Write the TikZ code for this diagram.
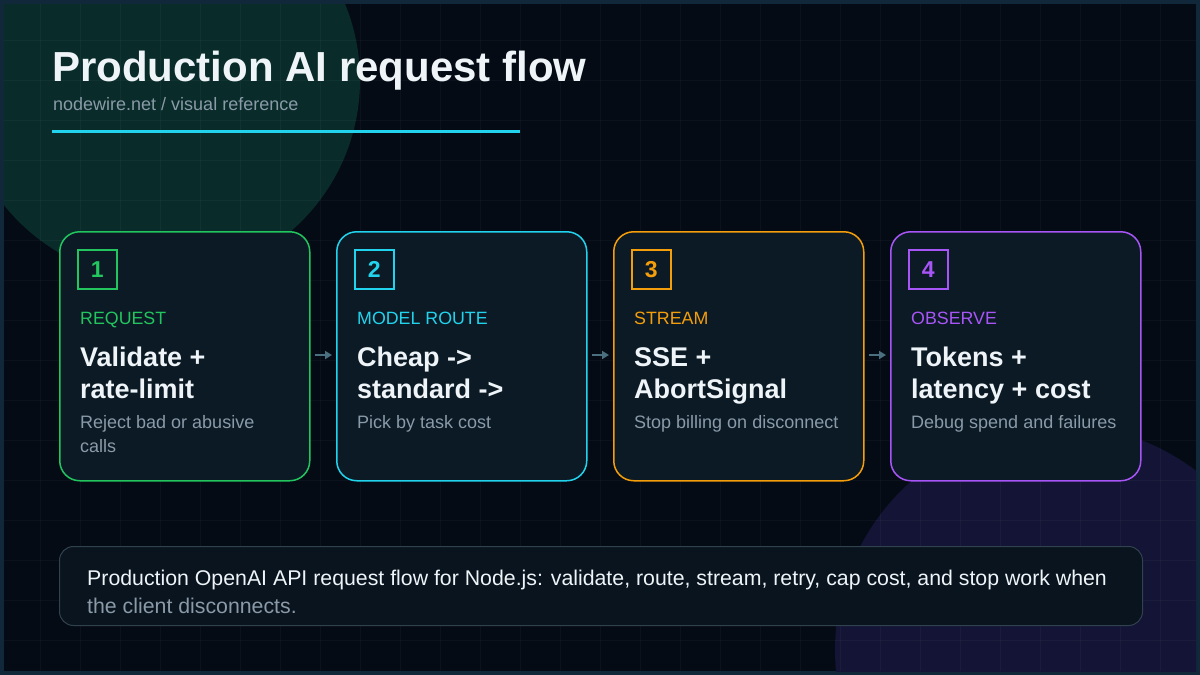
\documentclass[tikz,border=0pt]{standalone}
\usepackage{fontspec}
\setmainfont{Liberation Sans}
\usetikzlibrary{positioning,arrows.meta}
\definecolor{bgdark}{HTML}{050B14}
\definecolor{frame}{HTML}{10283A}
\definecolor{blobteal}{HTML}{092C2A}
\definecolor{blobpurple}{HTML}{141436}
\definecolor{cardfill}{HTML}{0B1A24}
\definecolor{cgreen}{HTML}{22C55E}
\definecolor{ccyan}{HTML}{22D3EE}
\definecolor{corange}{HTML}{F59E0B}
\definecolor{cpurple}{HTML}{A855F7}
\definecolor{txtmain}{HTML}{EEF4F8}
\definecolor{txtgray}{HTML}{8A9AA8}
\definecolor{arrowc}{HTML}{4A7080}
\begin{document}
\begin{tikzpicture}[x=1pt,y=-1pt,
        card/.style={draw, line width=1.5pt, rounded corners=20pt, fill=cardfill,
            minimum width=250pt, minimum height=249pt, anchor=north west},
        numbox/.style={draw, line width=1.5pt, minimum size=39pt, anchor=north west,
            font=\fontsize{23}{24}\selectfont\bfseries, inner sep=0pt},
        tagtext/.style={anchor=base west, inner sep=0pt, font=\fontsize{17.8}{20}\selectfont},
        headtext/.style={anchor=north west, inner sep=0pt, align=left, text=txtmain,
            font=\fontsize{27}{32}\selectfont\bfseries},
        desctext/.style={anchor=north west, inner sep=0pt, align=left, text=txtgray,
            font=\fontsize{18}{24}\selectfont},
        flow/.style={-{Triangle[length=7pt,width=8pt]}, line width=2.5pt, draw=arrowc,
            shorten <=4pt, shorten >=4pt}
    ]

    % Background and blobs
    \fill[frame] (0,0) rectangle (1200,675);
    \fill[bgdark] (4,4) rectangle (1196,671);
    \begin{scope}
        \clip (4,4) rectangle (1196,671);
        \fill[blobteal] (160,80) circle (200);
        \fill[blobpurple] (1060,650) circle (225);
        \foreach \gx in {40,80,...,1180} \draw[white, opacity=0.03] (\gx,4) -- (\gx,671);
        \foreach \gy in {40,80,...,660} \draw[white, opacity=0.03] (4,\gy) -- (1196,\gy);
    \end{scope}

    % Title block
    \node[anchor=base west, inner sep=0pt, text=txtmain, font=\fontsize{42}{46}\selectfont\bfseries] (title) at (52,81) {Production AI request flow};
    \node[anchor=base west, inner sep=0pt, text=txtgray, font=\fontsize{18}{20}\selectfont] (subtitle) at (53,110) {nodewire.net / visual reference};
    \draw[ccyan, line width=3pt] (52,131) -- (520,131);

    % Cards
    \foreach \i/\x/\col/\tag/\head/\desc in {
        1/59/cgreen/REQUEST/{Validate +\\rate-limit}/{Reject bad or abusive\\calls},
        2/336/ccyan/MODEL ROUTE/{Cheap ->\\standard ->}/{Pick by task cost},
        3/613/corange/STREAM/{SSE +\\AbortSignal}/{Stop billing on disconnect},
        4/890/cpurple/OBSERVE/{Tokens +\\latency + cost}/{Debug spend and failures}} {
        \node[card, draw=\col] (c\i) at (\x,231) {};
        \node[numbox, draw=\col, text=\col] (n\i) at (\x+18,249) {\i};
        \node[tagtext, text=\col] (t\i) at (\x+21,324) {\tag};
        \node[headtext] (h\i) at (\x+21,347) {\head};
        \node[desctext] (d\i) at (\x+21,415) {\desc};
    }

    % Flow arrows
    \draw[flow] ([yshift=-124pt]c1.north east) -- ([yshift=-124pt]c2.north west);
    \draw[flow] ([yshift=-124pt]c2.north east) -- ([yshift=-124pt]c3.north west);
    \draw[flow] ([yshift=-124pt]c3.north east) -- ([yshift=-124pt]c4.north west);

    % Summary box
    \node[draw=frame!70!gray, line width=1pt, rounded corners=14pt, fill=cardfill!60!bgdark,
        minimum width=1083pt, minimum height=79pt, anchor=north west] (summary) at (59,546) {};
    \node[anchor=north west, inner sep=0pt, align=left, font=\fontsize{21.3}{28}\selectfont] (sumtext) at (87,570)
        {\textcolor{txtmain}{Production OpenAI API request flow for Node.js: validate, route, stream, retry, cap cost, and stop work when}\\
         \textcolor{txtgray}{the client disconnects.}};
\end{tikzpicture}
\end{document}
